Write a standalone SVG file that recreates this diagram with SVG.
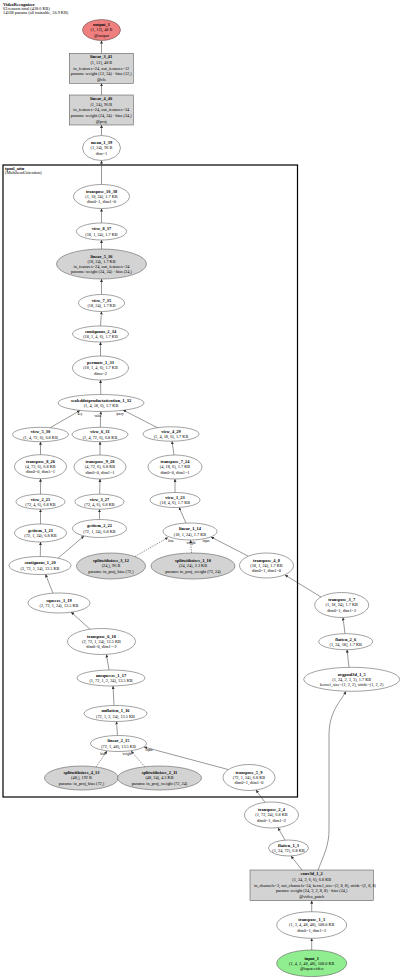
<svg xmlns="http://www.w3.org/2000/svg" width="400" height="978" viewBox="0 0 400 978">
<style>
text{font-family:"Liberation Serif","Times New Roman",serif;font-size:4.3px;text-anchor:middle;fill:#000}
.b{font-weight:bold;font-size:4.4px}
.hd text{text-anchor:start}
.n ellipse,.n rect{fill:#fff;stroke:#444;stroke-width:0.5}
.n.g ellipse,.n.g rect{fill:#d3d3d3}
.n.o ellipse{fill:#f08080}
.n.i ellipse{fill:#90ee90}
.e path{fill:none;stroke:#333;stroke-width:0.5;marker-end:url(#a)}
.e path.d{stroke-dasharray:1.5,1}
.l{font-size:3.3px}
</style>
<defs>
<marker id="a" viewBox="0 0 4 4" refX="4" refY="2" markerWidth="3" markerHeight="3" markerUnits="userSpaceOnUse" orient="auto"><path d="M0,0L4,2L0,4z" fill="#333"/></marker>
</defs>
<rect width="400" height="978" fill="#fff"/>
<g class="hd">
<text x="3" y="5.5" class="b">VideoRecognizer</text>
<text x="3" y="9.8">63 tensors total (418.6 KB)</text>
<text x="3" y="14">14568 params (all trainable, 56.9 KB)</text>
</g>
<g id="cluster_tpool_attn">
<rect x="3" y="165" width="294.5" height="632" fill="none" stroke="#000" stroke-width="1.2"/>
<text x="5" y="169.8" class="b" style="text-anchor:start">tpool_attn</text>
<text x="5" y="174" style="text-anchor:start">(MultiheadAttention)</text>
</g>
<g class="e" id="edges">
<path d="M101.5,53.3L101.5,40.5"/>
<path d="M101.5,95L101.5,83.3"/>
<path d="M101.5,135.5L101.5,125"/>
<path d="M101.5,184.5L101.5,160.5"/>
<path d="M101.5,223L101.5,208.5"/>
<path d="M101.5,249L101.5,240"/>
<path d="M101.5,294.5L101.5,279"/>
<path d="M100.5,326L101.5,311.5"/>
<path d="M100.5,356L100.5,342"/>
<path d="M100.8,394.5L100.5,380"/>
<path d="M50,427.8L80,410.5"/>
<path d="M100.3,427.3L100.8,411.5"/>
<path d="M158,428L123,410"/>
<path d="M40.5,454.7L40.5,441.7"/>
<path d="M100,455L100,441.7"/>
<path d="M174,455L172,441.2"/>
<path d="M40.5,494.2L40.5,478.7"/>
<path d="M99.7,494.2L100,479"/>
<path d="M175,492.5L175,479"/>
<path d="M40.5,524L40.5,509.2"/>
<path d="M99.5,519.5L99.5,509.2"/>
<path d="M186,523.2L179,507.3"/>
<path d="M40.3,556.5L40.5,542"/>
<path d="M58,558.2L84,536"/>
<path class="d" d="M135,556.5L168,537.5"/>
<path class="d" d="M191.5,553L190.5,540"/>
<path d="M248,556L211,537"/>
<path d="M53,593.2L45.5,574.3"/>
<path d="M90,629.2L71,612"/>
<path d="M109,670L106.5,654.5"/>
<path d="M114,705.5L113,686"/>
<path d="M117.5,735.5L116.5,721.5"/>
<path class="d" d="M96,767L107,751"/>
<path class="d" d="M145,767L131,751"/>
<path d="M228,769.5L144,747"/>
<path d="M265,802.3L256,790"/>
<path d="M285,840L278,827.8"/>
<path d="M302,870L291,856"/>
<path d="M318,870C324,855 329,845 329,830L329,735C329,712 340,702 346,691.5"/>
<path d="M311.7,911.7L311.7,900.7"/>
<path d="M311.7,950L311.7,938.3"/>
<path d="M349,667.3L347,649.7"/>
<path d="M345,633.7L343,617.5"/>
<path d="M321,597L285,575"/>
<text class="l" x="80" y="415">key</text>
<text class="l" x="98" y="416.5">value</text>
<text class="l" x="120" y="415">query</text>
<text class="l" x="171" y="541.5">bias</text>
<text class="l" x="191" y="544">weight</text>
<text class="l" x="206" y="541.5">input</text>
<text class="l" x="103" y="754.5">bias</text>
<text class="l" x="127" y="754.5">weight</text>
<text class="l" x="149" y="751">input</text>
</g>
<g class="n o" id="output_1"><ellipse cx="101.5" cy="30" rx="19" ry="10.5"/><text x="101.5" y="26.2" class="b">output_1</text><text x="101.5" y="31.4">(1, 12), 48 B</text><text x="101.5" y="36.6">@output</text></g>
<g class="n g" id="linear_3_41"><rect x="69.3" y="53.3" width="64" height="30"/><text x="101.3" y="58.3" class="b">linear_3_41</text><text x="101.3" y="64">(1, 12), 48 B</text><text x="101.3" y="69.7">in_features=24, out_features=12</text><text x="101.3" y="75.4">params: weight (12, 24) · bias (12,)</text><text x="101.3" y="81.1">@cls</text></g>
<g class="n g" id="linear_4_40"><rect x="69.3" y="95" width="64" height="30"/><text x="101.3" y="100" class="b">linear_4_40</text><text x="101.3" y="105.7">(1, 24), 96 B</text><text x="101.3" y="111.4">in_features=24, out_features=24</text><text x="101.3" y="117.1">params: weight (24, 24) · bias (24,)</text><text x="101.3" y="122.8">@proj</text></g>
<g class="n" id="mean_1_39"><ellipse cx="101.5" cy="148" rx="19" ry="12.5"/><text x="101.5" y="144.2" class="b">mean_1_39</text><text x="101.5" y="149.4">(1, 24), 96 B</text><text x="101.5" y="154.6">dim=1</text></g>
<g class="n" id="transpose_10_38"><ellipse cx="101.5" cy="196.5" rx="28" ry="12"/><text x="101.5" y="192.7" class="b">transpose_10_38</text><text x="101.5" y="197.9">(1, 18, 24), 1.7 KB</text><text x="101.5" y="203.1">dim0=1, dim1=0</text></g>
<g class="n" id="view_8_37"><ellipse cx="101.5" cy="231.5" rx="25" ry="8.5"/><text x="101.5" y="230.3" class="b">view_8_37</text><text x="101.5" y="235.5">(18, 1, 24), 1.7 KB</text></g>
<g class="n g" id="linear_5_36"><ellipse cx="101.5" cy="264" rx="45" ry="15"/><text x="101.5" y="257.6" class="b">linear_5_36</text><text x="101.5" y="262.8">(18, 24), 1.7 KB</text><text x="101.5" y="268">in_features=24, out_features=24</text><text x="101.5" y="273.2">params: weight (24, 24) · bias (24,)</text></g>
<g class="n" id="view_7_35"><ellipse cx="101.5" cy="303" rx="23" ry="8.5"/><text x="101.5" y="301.8" class="b">view_7_35</text><text x="101.5" y="307">(18, 24), 1.7 KB</text></g>
<g class="n" id="contiguous_2_34"><ellipse cx="100.5" cy="334" rx="28" ry="8"/><text x="100.5" y="332.8" class="b">contiguous_2_34</text><text x="100.5" y="338">(18, 1, 4, 6), 1.7 KB</text></g>
<g class="n" id="permute_1_33"><ellipse cx="100.5" cy="368" rx="28" ry="12"/><text x="100.5" y="364.2" class="b">permute_1_33</text><text x="100.5" y="369.4">(18, 1, 4, 6), 1.7 KB</text><text x="100.5" y="374.6">dims=2</text></g>
<g class="n" id="scaleddotproductattention_1_32"><ellipse cx="101" cy="403" rx="43" ry="8.5"/><text x="101" y="401.8" class="b">scaleddotproductattention_1_32</text><text x="101" y="407">(1, 4, 18, 6), 1.7 KB</text></g>
<g class="n" id="view_5_30"><ellipse cx="40.5" cy="434.5" rx="28" ry="7.2"/><text x="40.5" y="433.3" class="b">view_5_30</text><text x="40.5" y="438.5">(1, 4, 72, 6), 6.8 KB</text></g>
<g class="n" id="view_6_31"><ellipse cx="100" cy="434.5" rx="28" ry="7.2"/><text x="100" y="433.3" class="b">view_6_31</text><text x="100" y="438.5">(1, 4, 72, 6), 6.8 KB</text></g>
<g class="n" id="view_4_29"><ellipse cx="171" cy="434" rx="28" ry="7.2"/><text x="171" y="432.8" class="b">view_4_29</text><text x="171" y="438">(1, 4, 18, 6), 1.7 KB</text></g>
<g class="n" id="transpose_8_26"><ellipse cx="40.5" cy="466.7" rx="26" ry="12"/><text x="40.5" y="462.9" class="b">transpose_8_26</text><text x="40.5" y="468.1">(4, 72, 6), 6.8 KB</text><text x="40.5" y="473.3">dim0=0, dim1=1</text></g>
<g class="n" id="transpose_9_28"><ellipse cx="100" cy="467" rx="26" ry="12"/><text x="100" y="463.2" class="b">transpose_9_28</text><text x="100" y="468.4">(4, 72, 6), 6.8 KB</text><text x="100" y="473.6">dim0=0, dim1=1</text></g>
<g class="n" id="transpose_7_24"><ellipse cx="175" cy="467" rx="27" ry="12"/><text x="175" y="463.2" class="b">transpose_7_24</text><text x="175" y="468.4">(4, 18, 6), 1.7 KB</text><text x="175" y="473.6">dim0=0, dim1=1</text></g>
<g class="n" id="view_2_25"><ellipse cx="40.5" cy="501.7" rx="24.5" ry="7.5"/><text x="40.5" y="500.5" class="b">view_2_25</text><text x="40.5" y="505.7">(72, 4, 6), 6.8 KB</text></g>
<g class="n" id="view_3_27"><ellipse cx="99.5" cy="501.7" rx="24.5" ry="7.5"/><text x="99.5" y="500.5" class="b">view_3_27</text><text x="99.5" y="505.7">(72, 4, 6), 6.8 KB</text></g>
<g class="n" id="view_1_23"><ellipse cx="175" cy="500" rx="25" ry="7.5"/><text x="175" y="498.8" class="b">view_1_23</text><text x="175" y="504">(18, 4, 6), 1.7 KB</text></g>
<g class="n" id="getitem_1_21"><ellipse cx="40.5" cy="533" rx="26" ry="9"/><text x="40.5" y="531.8" class="b">getitem_1_21</text><text x="40.5" y="537">(72, 1, 24), 6.8 KB</text></g>
<g class="n" id="getitem_2_22"><ellipse cx="99.5" cy="528.5" rx="27" ry="9"/><text x="99.5" y="527.3" class="b">getitem_2_22</text><text x="99.5" y="532.5">(72, 1, 24), 6.8 KB</text></g>
<g class="n" id="linear_1_14"><ellipse cx="190" cy="531.5" rx="27" ry="8.5"/><text x="190" y="530.3" class="b">linear_1_14</text><text x="190" y="535.5">(18, 1, 24), 1.7 KB</text></g>
<g class="n" id="contiguous_1_20"><ellipse cx="40" cy="565.5" rx="31" ry="9"/><text x="40" y="564.3" class="b">contiguous_1_20</text><text x="40" y="569.5">(2, 72, 1, 24), 13.5 KB</text></g>
<g class="n g" id="splitwithsizes_3_12"><ellipse cx="111" cy="566" rx="34.5" ry="13"/><text x="111" y="562.2" class="b">splitwithsizes_3_12</text><text x="111" y="567.4">(24,), 96 B</text><text x="111" y="572.6">params: in_proj_bias (72,)</text></g>
<g class="n g" id="splitwithsizes_1_10"><ellipse cx="193" cy="566" rx="42" ry="13"/><text x="193" y="562.2" class="b">splitwithsizes_1_10</text><text x="193" y="567.4">(24, 24), 2.3 KB</text><text x="193" y="572.6">params: in_proj_weight (72, 24)</text></g>
<g class="n" id="transpose_4_8"><ellipse cx="266.5" cy="565.5" rx="27" ry="12.5"/><text x="266.5" y="561.7" class="b">transpose_4_8</text><text x="266.5" y="566.9">(18, 1, 24), 1.7 KB</text><text x="266.5" y="572.1">dim0=1, dim1=0</text></g>
<g class="n" id="squeeze_1_19"><ellipse cx="59" cy="603" rx="31" ry="10"/><text x="59" y="601.8" class="b">squeeze_1_19</text><text x="59" y="607">(2, 72, 1, 24), 13.5 KB</text></g>
<g class="n" id="transpose_6_18"><ellipse cx="101.5" cy="641.5" rx="34" ry="13"/><text x="101.5" y="637.7" class="b">transpose_6_18</text><text x="101.5" y="642.9">(2, 72, 1, 24), 13.5 KB</text><text x="101.5" y="648.1">dim0=0, dim1=-2</text></g>
<g class="n" id="unsqueeze_1_17"><ellipse cx="111" cy="678" rx="34" ry="8"/><text x="111" y="676.8" class="b">unsqueeze_1_17</text><text x="111" y="682">(1, 72, 1, 2, 24), 13.5 KB</text></g>
<g class="n" id="unflatten_1_16"><ellipse cx="115.5" cy="713.5" rx="31.5" ry="8"/><text x="115.5" y="712.3" class="b">unflatten_1_16</text><text x="115.5" y="717.5">(72, 1, 2, 24), 13.5 KB</text></g>
<g class="n" id="linear_2_15"><ellipse cx="118.5" cy="743.5" rx="28" ry="8"/><text x="118.5" y="742.3" class="b">linear_2_15</text><text x="118.5" y="747.5">(72, 1, 48), 13.5 KB</text></g>
<g class="n g" id="splitwithsizes_4_13"><ellipse cx="81.5" cy="778" rx="37" ry="12"/><text x="81.5" y="774.2" class="b">splitwithsizes_4_13</text><text x="81.5" y="779.4">(48,), 192 B</text><text x="81.5" y="784.6">params: in_proj_bias (72,)</text></g>
<g class="n g" id="splitwithsizes_2_11"><ellipse cx="159.5" cy="778" rx="42" ry="12"/><text x="159.5" y="774.2" class="b">splitwithsizes_2_11</text><text x="159.5" y="779.4">(48, 24), 4.5 KB</text><text x="159.5" y="784.6">params: in_proj_weight (72, 24)</text></g>
<g class="n" id="transpose_5_9"><ellipse cx="249" cy="777.5" rx="26" ry="13"/><text x="249" y="773.7" class="b">transpose_5_9</text><text x="249" y="778.9">(72, 1, 24), 6.8 KB</text><text x="249" y="784.1">dim0=1, dim1=0</text></g>
<g class="n" id="transpose_3_7"><ellipse cx="341.7" cy="605" rx="27" ry="12.5"/><text x="341.7" y="601.2" class="b">transpose_3_7</text><text x="341.7" y="606.4">(1, 18, 24), 1.7 KB</text><text x="341.7" y="611.6">dim0=1, dim1=2</text></g>
<g class="n" id="flatten_2_6"><ellipse cx="345.7" cy="641.7" rx="27" ry="8"/><text x="345.7" y="640.5" class="b">flatten_2_6</text><text x="345.7" y="645.7">(1, 24, 18), 1.7 KB</text></g>
<g class="n" id="avgpool3d_1_5"><ellipse cx="351.7" cy="679.3" rx="48" ry="12"/><text x="351.7" y="675.5" class="b">avgpool3d_1_5</text><text x="351.7" y="680.7">(1, 24, 2, 3, 3), 1.7 KB</text><text x="351.7" y="685.9">kernel_size=(1, 2, 2), stride=(1, 2, 2)</text></g>
<g class="n" id="transpose_2_4"><ellipse cx="271.5" cy="815" rx="27" ry="13"/><text x="271.5" y="811.2" class="b">transpose_2_4</text><text x="271.5" y="816.4">(1, 72, 24), 6.8 KB</text><text x="271.5" y="821.6">dim0=1, dim1=2</text></g>
<g class="n" id="flatten_1_3"><ellipse cx="288.5" cy="848" rx="20" ry="8"/><text x="288.5" y="846.8" class="b">flatten_1_3</text><text x="288.5" y="852">(1, 24, 72), 6.8 KB</text></g>
<g class="n g" id="conv3d_1_2"><rect x="250" y="870" width="123.3" height="30.7"/><text x="311.7" y="875.3" class="b">conv3d_1_2</text><text x="311.7" y="881">(1, 24, 2, 6, 6), 6.8 KB</text><text x="315" y="886.7">in_channels=3, out_channels=24, kernel_size=(2, 8, 8), stride=(2, 8, 8)</text><text x="311.7" y="892.4">params: weight (24, 3, 2, 8, 8) · bias (24,)</text><text x="311.7" y="898.1">@video_patch</text></g>
<g class="n" id="transpose_1_1"><ellipse cx="311.7" cy="925" rx="35" ry="13.3"/><text x="311.7" y="921.2" class="b">transpose_1_1</text><text x="311.7" y="926.4">(1, 3, 4, 48, 48), 108.0 KB</text><text x="311.7" y="931.6">dim0=1, dim1=2</text></g>
<g class="n i" id="input_1"><ellipse cx="311.7" cy="963.3" rx="35" ry="13.3"/><text x="311.7" y="959.5" class="b">input_1</text><text x="311.7" y="964.7">(1, 4, 3, 48, 48), 108.0 KB</text><text x="311.7" y="969.9">@input.video</text></g>
</svg>
